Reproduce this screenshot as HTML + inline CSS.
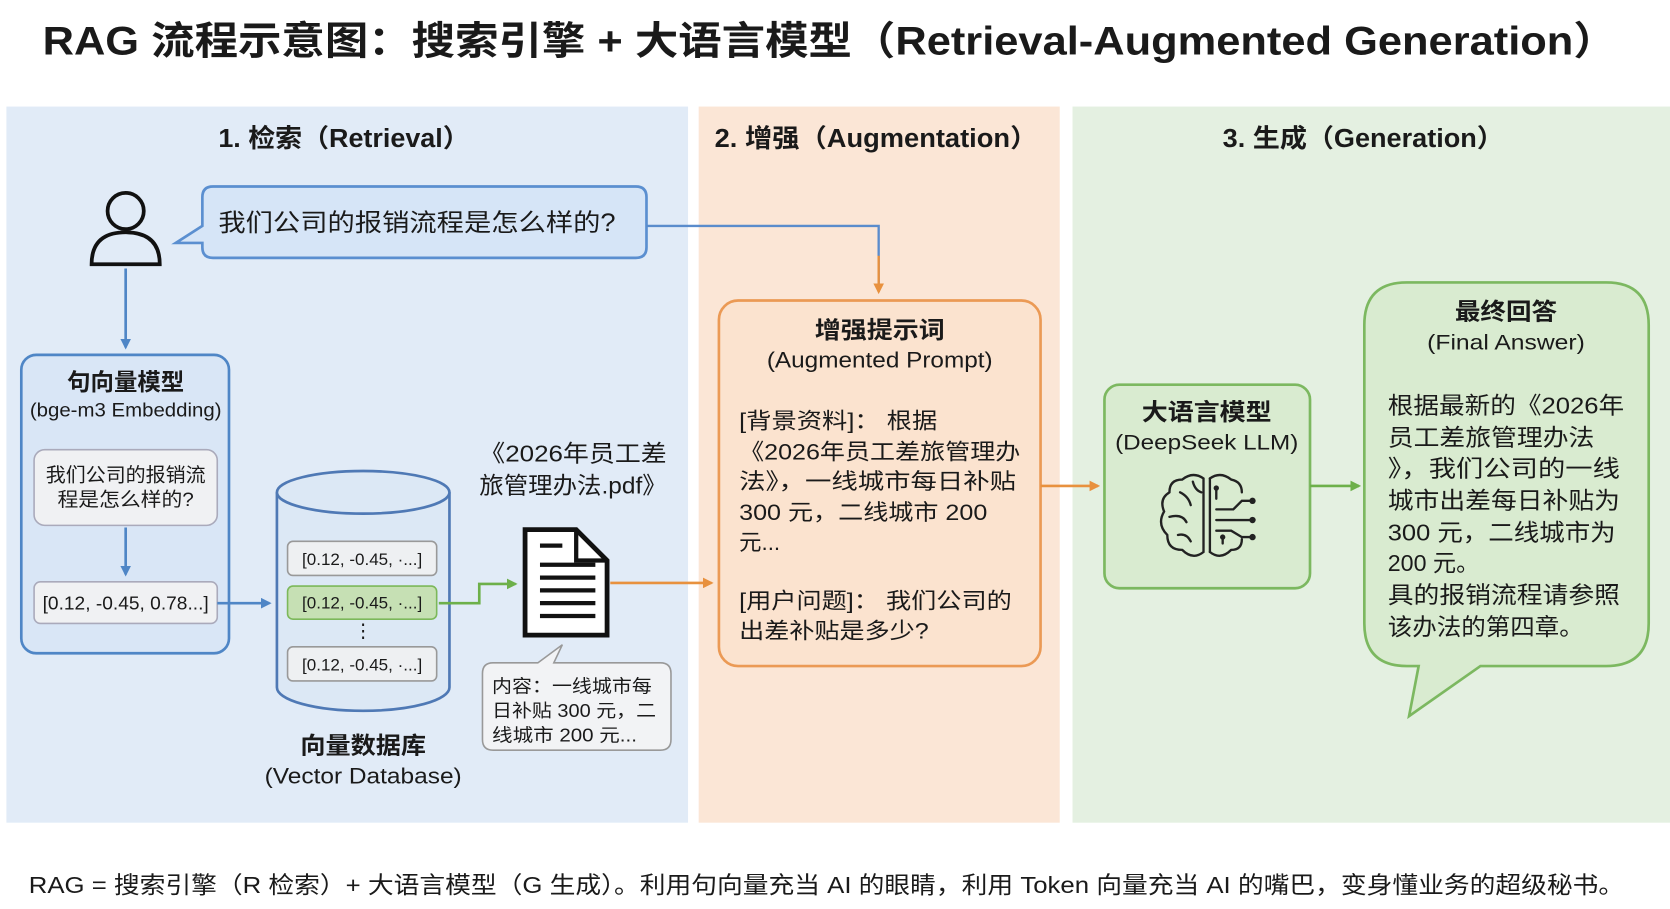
<!DOCTYPE html>
<html><head><meta charset="utf-8"><style>
html,body{margin:0;padding:0;background:#fff;width:1670px;height:909px;overflow:hidden}
svg{display:block}
text{font-family:"Liberation Sans","Noto Sans CJK SC",sans-serif;fill:#1a1a1a}
.b{font-weight:bold}
</style></head><body>
<svg width="1670" height="909" viewBox="0 0 1568 853" preserveAspectRatio="none" xmlns="http://www.w3.org/2000/svg">
<defs>
<marker id="ab" markerWidth="10" markerHeight="10" refX="8" refY="5" orient="auto" markerUnits="userSpaceOnUse"><path d="M0,0 L10,5 L0,10 z" fill="#4f86c6"/></marker>
<marker id="ao" markerWidth="10" markerHeight="10" refX="8" refY="5" orient="auto" markerUnits="userSpaceOnUse"><path d="M0,0 L10,5 L0,10 z" fill="#e8913e"/></marker>
<marker id="ag" markerWidth="10" markerHeight="10" refX="8" refY="5" orient="auto" markerUnits="userSpaceOnUse"><path d="M0,0 L10,5 L0,10 z" fill="#6db04a"/></marker>
</defs>
<rect width="1568" height="853" fill="#fff"/>
<text x="40" y="51" class="b" font-size="37" textLength="1478" lengthAdjust="spacingAndGlyphs">RAG 流程示意图：搜索引擎 + 大语言模型（Retrieval-Augmented Generation）</text>
<rect x="6" y="100" width="640" height="672" fill="#e1ebf7"/>
<rect x="656" y="100" width="339" height="672" fill="#fbe6d6"/>
<rect x="1007" y="100" width="561" height="672" fill="#e4f0e1"/>
<text x="205" y="138" class="b" font-size="24" textLength="236" lengthAdjust="spacingAndGlyphs">1. 检索（Retrieval）</text>
<text x="671" y="138" class="b" font-size="24" textLength="303" lengthAdjust="spacingAndGlyphs">2. 增强（Augmentation）</text>
<text x="1148" y="138" class="b" font-size="24" textLength="264" lengthAdjust="spacingAndGlyphs">3. 生成（Generation）</text>

<circle cx="118" cy="198" r="17" fill="none" stroke="#111" stroke-width="3.5"/>
<path d="M86,248 Q86,218 118,218 Q150,218 150,248 Z" fill="none" stroke="#111" stroke-width="3.5"/>
<path d="M200,175 H597 Q607,175 607,185 V232 Q607,242 597,242 H200 Q190,242 190,232 V228 L165,228 L190,212 V185 Q190,175 200,175 Z" fill="#d6e5f7" stroke="#5b8fd0" stroke-width="2.5"/>
<text x="205" y="217" font-size="23" textLength="373" lengthAdjust="spacingAndGlyphs">我们公司的报销流程是怎么样的?</text>
<path d="M607,212 H825 V274" fill="none" stroke="#5a8ccc" stroke-width="2.2"/>
<path d="M825,240 V274" fill="none" stroke="#e8913e" stroke-width="2.2" marker-end="url(#ao)"/>
<path d="M118,252 V326" stroke="#4f86c6" stroke-width="2.5" marker-end="url(#ab)"/>

<rect x="20" y="333" width="195" height="280" rx="14" fill="#d9e6f6" stroke="#4f86c6" stroke-width="2.5"/>
<text x="118" y="366" text-anchor="middle" class="b" font-size="22">句向量模型</text>
<text x="118" y="391" text-anchor="middle" font-size="18" textLength="180" lengthAdjust="spacingAndGlyphs">(bge-m3 Embedding)</text>
<rect x="32" y="422" width="172" height="71" rx="10" fill="#f0f1f3" stroke="#aab" stroke-width="1.5"/>
<text x="118" y="452" text-anchor="middle" font-size="18" textLength="150" lengthAdjust="spacingAndGlyphs">我们公司的报销流</text>
<text x="118" y="475" text-anchor="middle" font-size="18" textLength="128" lengthAdjust="spacingAndGlyphs">程是怎么样的?</text>
<path d="M118,495 V539" stroke="#4f86c6" stroke-width="2.5" marker-end="url(#ab)"/>
<rect x="32" y="546" width="172" height="39" rx="6" fill="#f0f1f3" stroke="#aab" stroke-width="1.5"/>
<text x="118" y="572" text-anchor="middle" font-size="17" textLength="156" lengthAdjust="spacingAndGlyphs">[0.12, -0.45, 0.78...]</text>
<path d="M204,566 H253" stroke="#4f86c6" stroke-width="2.5" marker-end="url(#ab)"/>

<path d="M260,462 V645 A81,22 0 0 0 422,645 V462" fill="#dce8f5" stroke="#4f79b5" stroke-width="2.5"/>
<ellipse cx="341" cy="462" rx="81" ry="20" fill="#dce8f5" stroke="#4f79b5" stroke-width="2.5"/>
<rect x="270" y="508" width="140" height="32" rx="5" fill="#eef0f2" stroke="#999" stroke-width="1.5"/>
<text x="340" y="530" text-anchor="middle" font-size="16">[0.12, -0.45, ·...]</text>
<rect x="270" y="550" width="140" height="31" rx="5" fill="#c6e0b4" stroke="#7cb85a" stroke-width="1.5"/>
<text x="340" y="571" text-anchor="middle" font-size="16">[0.12, -0.45, ·...]</text>
<text x="341" y="598" text-anchor="middle" font-size="18">⋮</text>
<rect x="270" y="607" width="140" height="32" rx="5" fill="#eef0f2" stroke="#999" stroke-width="1.5"/>
<text x="340" y="629" text-anchor="middle" font-size="16">[0.12, -0.45, ·...]</text>
<text x="341" y="707" text-anchor="middle" class="b" font-size="22" textLength="118" lengthAdjust="spacingAndGlyphs">向量数据库</text>
<text x="341" y="735" text-anchor="middle" font-size="21" textLength="185" lengthAdjust="spacingAndGlyphs">(Vector Database)</text>
<path d="M412,566 H450 V548 H484" fill="none" stroke="#6db04a" stroke-width="2.5" marker-end="url(#ag)"/>

<text x="450" y="433" font-size="22" textLength="176" lengthAdjust="spacingAndGlyphs">《2026年员工差</text>
<text x="450" y="463" font-size="22" textLength="176" lengthAdjust="spacingAndGlyphs">旅管理办法.pdf》</text>
<path d="M493,497 H541 L570,526 V596 H493 Z" fill="#fff" stroke="#111" stroke-width="4.5"/>
<path d="M541,497 V526 H570" fill="none" stroke="#111" stroke-width="4"/>
<g stroke="#111" stroke-width="4"><line x1="507" y1="512" x2="528" y2="512"/><line x1="507" y1="530" x2="559" y2="530"/><line x1="507" y1="542" x2="559" y2="542"/><line x1="507" y1="554" x2="559" y2="554"/><line x1="507" y1="566" x2="559" y2="566"/><line x1="507" y1="578" x2="559" y2="578"/></g>
<path d="M573,547 H668" stroke="#e8913e" stroke-width="2.5" marker-end="url(#ao)"/>
<path d="M463,622 H505 L528,605 L520,622 H620 Q630,622 630,632 V694 Q630,704 620,704 H463 Q453,704 453,694 V632 Q453,622 463,622 Z" fill="#f2f3f5" stroke="#999" stroke-width="1.5"/>
<text x="462" y="650" font-size="17" textLength="150" lengthAdjust="spacingAndGlyphs">内容：一线城市每</text>
<text x="462" y="673" font-size="17" textLength="154" lengthAdjust="spacingAndGlyphs">日补贴 300 元，二</text>
<text x="462" y="696" font-size="17" textLength="136" lengthAdjust="spacingAndGlyphs">线城市 200 元...</text>

<rect x="675" y="282" width="302" height="343" rx="18" fill="#fbe3cf" stroke="#eb9a55" stroke-width="2.5"/>
<text x="826" y="317" text-anchor="middle" class="b" font-size="22" textLength="122" lengthAdjust="spacingAndGlyphs">增强提示词</text>
<text x="826" y="345" text-anchor="middle" font-size="21" textLength="212" lengthAdjust="spacingAndGlyphs">(Augmented Prompt)</text>
<g font-size="21">
<text x="694" y="402" textLength="186" lengthAdjust="spacingAndGlyphs">[背景资料]： 根据</text>
<text x="694" y="431" textLength="264" lengthAdjust="spacingAndGlyphs">《2026年员工差旅管理办</text>
<text x="694" y="459" textLength="260" lengthAdjust="spacingAndGlyphs">法》，一线城市每日补贴</text>
<text x="694" y="488" textLength="233" lengthAdjust="spacingAndGlyphs">300 元，二线城市 200</text>
<text x="694" y="516">元...</text>
<text x="694" y="571" textLength="256" lengthAdjust="spacingAndGlyphs">[用户问题]： 我们公司的</text>
<text x="694" y="599" textLength="178" lengthAdjust="spacingAndGlyphs">出差补贴是多少?</text>
</g>
<path d="M977,456 H1031" stroke="#e8913e" stroke-width="2.5" marker-end="url(#ao)"/>

<rect x="1037" y="361" width="193" height="191" rx="14" fill="#d9ebd0" stroke="#7cb860" stroke-width="2.5"/>
<text x="1133" y="394" text-anchor="middle" class="b" font-size="22" textLength="122" lengthAdjust="spacingAndGlyphs">大语言模型</text>
<text x="1133" y="422" text-anchor="middle" font-size="20" textLength="172" lengthAdjust="spacingAndGlyphs">(DeepSeek LLM)</text>
<g fill="none" stroke="#222" stroke-width="2.2" stroke-linecap="round">
<path d="M1130,449 Q1120,442 1110,450 Q1098,450 1098,462 Q1088,468 1093,480 Q1086,492 1096,502 Q1096,516 1110,516 Q1120,526 1130,518 Z"/>
<path d="M1108,462 Q1116,466 1118,474 M1098,485 Q1110,482 1114,490 M1106,502 Q1114,500 1118,508 M1120,452 Q1122,460 1128,462"/>
<path d="M1136,449 Q1146,442 1156,450 Q1166,452 1166,462 M1136,518 Q1146,526 1156,516 Q1166,516 1166,506"/>
<path d="M1136,449 V518"/>
<path d="M1142,468 V458 M1142,478 H1158 L1166,470 H1176 M1142,488 H1176 M1142,498 H1156 L1166,504 H1176 M1148,510 V504"/>
</g>
<g fill="#222"><circle cx="1176" cy="470" r="3"/><circle cx="1176" cy="488" r="3"/><circle cx="1176" cy="504" r="3"/><circle cx="1142" cy="458" r="2.5"/><circle cx="1148" cy="504" r="2.5"/></g>
<path d="M1230,456 H1276" stroke="#6db04a" stroke-width="2.5" marker-end="url(#ag)"/>

<path d="M1321,265 H1508 Q1548,265 1548,305 V585 Q1548,625 1508,625 H1390 L1323,672 L1332,625 H1321 Q1281,625 1281,585 V305 Q1281,265 1321,265 Z" fill="#d9ebd0" stroke="#7cb860" stroke-width="2.5"/>
<text x="1414" y="300" text-anchor="middle" class="b" font-size="22" textLength="96" lengthAdjust="spacingAndGlyphs">最终回答</text>
<text x="1414" y="328" text-anchor="middle" font-size="20" textLength="148" lengthAdjust="spacingAndGlyphs">(Final Answer)</text>
<g font-size="22">
<text x="1303" y="388" textLength="222" lengthAdjust="spacingAndGlyphs">根据最新的《2026年</text>
<text x="1303" y="418" textLength="194" lengthAdjust="spacingAndGlyphs">员工差旅管理办法</text>
<text x="1303" y="447" textLength="218" lengthAdjust="spacingAndGlyphs">》，我们公司的一线</text>
<text x="1303" y="477" textLength="218" lengthAdjust="spacingAndGlyphs">城市出差每日补贴为</text>
<text x="1303" y="507" textLength="214" lengthAdjust="spacingAndGlyphs">300 元，二线城市为</text>
<text x="1303" y="536" textLength="86" lengthAdjust="spacingAndGlyphs">200 元。</text>
<text x="1303" y="566" textLength="218" lengthAdjust="spacingAndGlyphs">具的报销流程请参照</text>
<text x="1303" y="596" textLength="184" lengthAdjust="spacingAndGlyphs">该办法的第四章。</text>
</g>

<text x="27" y="838" font-size="22" textLength="1498" lengthAdjust="spacingAndGlyphs">RAG = 搜索引擎（R 检索）+ 大语言模型（G 生成）。利用句向量充当 AI 的眼睛，利用 Token 向量充当 AI 的嘴巴，变身懂业务的超级秘书。</text>
</svg>
</body></html>
